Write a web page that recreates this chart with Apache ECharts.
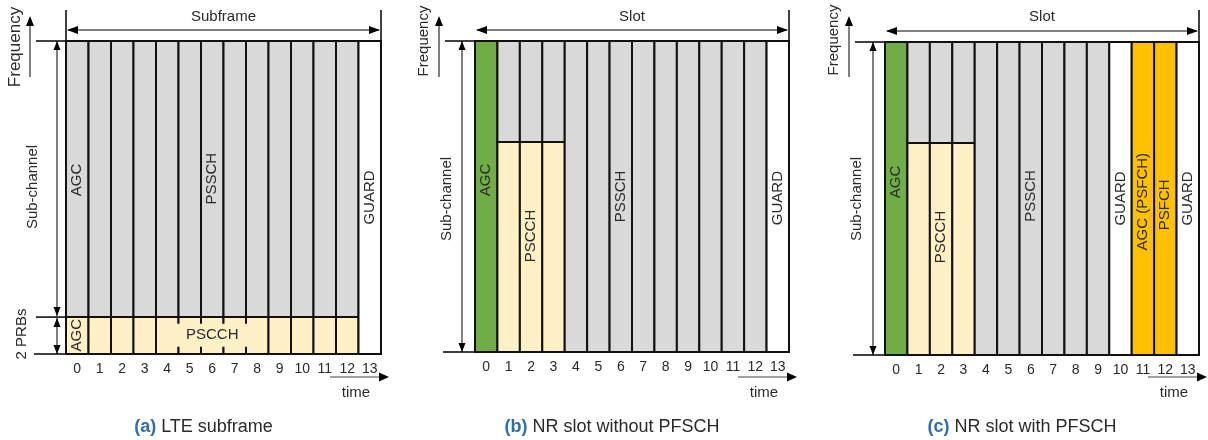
<!DOCTYPE html>
<html>
<head>
<meta charset="utf-8">
<script src="https://cdn.jsdelivr.net/npm/echarts@6/dist/echarts.min.js"></script>
<style>
  html, body { margin: 0; padding: 0; background: #fff; }
  #chart { width: 1208px; height: 440px; }
</style>
</head>
<body>
<div id="chart"></div>
<script>
// OFDM symbol indices along the time axis
const symbols = ['0', '1', '2', '3', '4', '5', '6', '7', '8', '9', '10', '11', '12', '13'];

// Resource kind of each symbol, upper and lower part of the sub-channel
// d = data (PSSCH), c = control (PSCCH), a = AGC, f = feedback (PSFCH), g = guard
const lteUpper = ['d', 'd', 'd', 'd', 'd', 'd', 'd', 'd', 'd', 'd', 'd', 'd', 'd', 'g'];
const lteLower = ['c', 'c', 'c', 'c', 'c', 'c', 'c', 'c', 'c', 'c', 'c', 'c', 'c', 'g'];
const lteSplit = 0.118;   // 2 PRBs out of the sub-channel

const nrUpper = ['a', 'd', 'd', 'd', 'd', 'd', 'd', 'd', 'd', 'd', 'd', 'd', 'd', 'g'];
const nrLower = ['a', 'c', 'c', 'c', 'd', 'd', 'd', 'd', 'd', 'd', 'd', 'd', 'd', 'g'];
const nrSplit = 0.675;

const nrFbUpper = ['a', 'd', 'd', 'd', 'd', 'd', 'd', 'd', 'd', 'd', 'g', 'f', 'f', 'g'];
const nrFbLower = ['a', 'c', 'c', 'c', 'd', 'd', 'd', 'd', 'd', 'd', 'g', 'f', 'f', 'g'];
const nrFbSplit = 0.677;

// Channel names: [text, symbol, height in sub-channel, orientation]
const lteLabels = [['AGC', 0, 0.556, 'v'], ['PSSCH', 6, 0.56, 'v'], ['GUARD', 13, 0.5, 'v'],
                   ['AGC', 0, 0.06, 'v'], ['PSCCH', 6.2, 0.06, 'h']];
const nrLabels = [['AGC', 0, 0.553, 'v'], ['PSCCH', 2, 0.373, 'v'], ['PSSCH', 6, 0.5, 'v'], ['GUARD', 13, 0.495, 'v']];
const nrFbLabels = [['AGC', 0, 0.553, 'v'], ['PSCCH', 2, 0.377, 'v'], ['PSSCH', 6, 0.508, 'v'],
                    ['GUARD', 10, 0.5, 'v'], ['AGC (PSFCH)', 11, 0.49, 'v'], ['PSFCH', 12, 0.48, 'v'], ['GUARD', 13, 0.5, 'v']];

const spanNames = ['Subframe', 'Slot', 'Slot'];
const captionTags = ['(a)', '(b)', '(c)'];
const captionTexts = ['LTE subframe', 'NR slot without PFSCH', 'NR slot with PFSCH'];

const FONT = '"Liberation Sans", Arial, Helvetica, sans-serif';
const INK = '#2a2a2a';
const fills = { d: '#d9d9d9', c: '#fff0c6', a: '#70ad47', f: '#ffc000', g: '#ffffff' };

const layout = [
  { left: 66, top: 41, width: 315, height: 313, freqSize: 17, freqY: 47 },
  { left: 475, top: 41, width: 314, height: 311, freqSize: 15, freqY: 41 },
  { left: 885, top: 42, width: 314, height: 313, freqSize: 15, freqY: 40 }
];

function buildCells(upper, lower, split) {
  const out = [];
  upper.forEach((u, c) => {
    const l = lower[c];
    if (u === l) out.push([c, 0, 1, u]);
    else { out.push([c, 0, split, l]); out.push([c, split, 1, u]); }
  });
  return out;
}

const panelCells = [
  buildCells(lteUpper, lteLower, lteSplit),
  buildCells(nrUpper, nrLower, nrSplit),
  buildCells(nrFbUpper, nrFbLower, nrFbSplit)
];
const panelLabels = [lteLabels, nrLabels, nrFbLabels];

function cellSeries(i) {
  const cells = panelCells[i];
  return {
    type: 'custom', xAxisIndex: i, yAxisIndex: i, silent: true,
    data: cells.map(d => [d[0], d[1], d[2]]),
    encode: { x: 0, y: [1, 2] },
    renderItem: function (params, api) {
      const cell = cells[params.dataIndex];
      const p0 = api.coord([cell[0], cell[1]]);
      const p1 = api.coord([cell[0], cell[2]]);
      const bw = api.size([1, 0])[0];
      return {
        type: 'rect',
        shape: { x: p0[0] - bw / 2, y: p1[1], width: bw, height: p0[1] - p1[1] },
        style: { fill: fills[cell[3]], stroke: '#111', lineWidth: 2 }
      };
    }
  };
}

function labelSeries(i) {
  const labels = panelLabels[i];
  return {
    type: 'custom', xAxisIndex: i, yAxisIndex: i, silent: true, z: 5,
    data: labels.map(l => [l[1], l[2]]),
    encode: { x: 0, y: 1 },
    renderItem: function (params, api) {
      const l = labels[params.dataIndex];
      const p = api.coord([l[1], l[2]]);
      const horizontal = l[3] === 'h';
      const style = {
        text: l[0], fill: INK, fontSize: 15, fontFamily: FONT,
        align: 'center', verticalAlign: 'middle'
      };
      if (horizontal) { style.backgroundColor = fills.c; style.padding = [4, 14]; }
      return { type: 'text', x: p[0], y: p[1], rotation: horizontal ? 0 : Math.PI / 2, style: style };
    }
  };
}

// ---- annotation helpers (pixel space, derived from the grid layout) ----
function line(x1, y1, x2, y2, w, color) {
  return { type: 'line', silent: true, shape: { x1: x1, y1: y1, x2: x2, y2: y2 },
           style: { stroke: color || '#000', lineWidth: w || 1 } };
}
function head(x, y, dx, dy, len, hw) {
  len = len || 9; hw = hw || 3.5;
  const bx = x - dx * len, by = y - dy * len;
  const px = -dy * hw, py = dx * hw;
  return { type: 'polygon', silent: true,
           shape: { points: [[x, y], [bx + px, by + py], [bx - px, by - py]] },
           style: { fill: '#000' } };
}
function label(str, x, y, size, rot, extra) {
  const style = Object.assign({ text: str, fill: INK, fontSize: size, fontFamily: FONT,
                                align: 'center', verticalAlign: 'middle' }, extra || {});
  return { type: 'text', silent: true, x: x, y: y, rotation: rot || 0, style: style };
}
function vArrow(x, y1, y2, both) {   // y1 top, y2 bottom
  const els = [line(x, y1, x, y2, 1)];
  els.push(head(x, y1, 0, -1));
  if (both) els.push(head(x, y2, 0, 1));
  return els;
}

const graphics = [];
layout.forEach((g, i) => {
  const L = g.left, T = g.top, R = g.left + g.width, B = g.top + g.height;
  // extension rules to the left of the grid
  graphics.push(line(L - 30, T, L, T, 1.5));
  graphics.push(line(L - 32, B, L, B, 1.5));
  // frequency axis
  graphics.push(label('Frequency', L - 51, g.freqY, g.freqSize, Math.PI / 2));
  graphics.push(line(L - 36, 77, L - 36, 22, 1));
  graphics.push(head(L - 36, 16, 0, -1, 10, 4));
  // span arrow on top
  graphics.push(line(L + 2, T - 11, R - 2, T - 11, 1));
  graphics.push(head(L + 1, T - 11, -1, 0, 11, 4));
  graphics.push(head(R - 1, T - 11, 1, 0, 11, 4));
  graphics.push(line(R, 10, R, T, 1.5));
  if (i === 0) graphics.push(line(L, 10, L, T, 1.5));
  graphics.push(label(spanNames[i], L + g.width / 2, 17, 15, 0));
  // time arrow
  graphics.push(line(R - 51, 377, R + 1, 377, 1.2, '#444'));
  graphics.push(head(R + 8, 377, 1, 0, 10, 4.5));
  graphics.push(label('time', R - 25, 393, 15, 0));
  // caption
  graphics.push({
    type: 'text', silent: true, x: L + g.width / 2 - 20, y: 427,
    style: {
      text: '{t|' + captionTags[i] + '} ' + captionTexts[i],
      fill: INK, fontSize: 18, fontFamily: FONT, align: 'center', verticalAlign: 'middle',
      rich: { t: { fill: '#2f6eaa', fontWeight: 'bold', fontSize: 18, fontFamily: FONT } }
    }
  });
  if (i === 0) {
    const S = B - lteSplit * g.height;
    graphics.push(line(L - 30, S, L, S, 1.5));
    vArrow(L - 9, T, S - 1, true).forEach(e => graphics.push(e));
    vArrow(L - 9, S + 1, B, true).forEach(e => graphics.push(e));
    graphics.push(label('Sub-channel', L - 33, 187, 15, Math.PI / 2));
    graphics.push(label('2 PRBs', 22, 334, 15, Math.PI / 2));
  } else {
    const ax = i === 1 ? L - 13 : L - 12;
    vArrow(ax, T, B, true).forEach(e => graphics.push(e));
    graphics.push(label('Sub-channel', L - 28, 199, 15, Math.PI / 2));
  }
});

const grids = layout.map(g => ({ left: g.left, top: g.top, width: g.width, height: g.height }));
const xAxes = layout.map((g, i) => ({
  type: 'category', gridIndex: i, data: symbols, boundaryGap: true,
  axisLine: { show: false }, axisTick: { show: false }, splitLine: { show: false },
  axisLabel: { color: INK, fontSize: 14, fontFamily: FONT, margin: 8, interval: 0 }
}));
const yAxes = layout.map((g, i) => ({ type: 'value', gridIndex: i, min: 0, max: 1, show: false }));

const series = [];
layout.forEach((g, i) => { series.push(cellSeries(i)); series.push(labelSeries(i)); });

const chart = echarts.init(document.getElementById('chart'), null, { renderer: 'canvas' });
chart.setOption({
  animation: false,
  backgroundColor: '#ffffff',
  grid: grids,
  xAxis: xAxes,
  yAxis: yAxes,
  series: series,
  graphic: { elements: graphics }
});
</script>
</body>
</html>
